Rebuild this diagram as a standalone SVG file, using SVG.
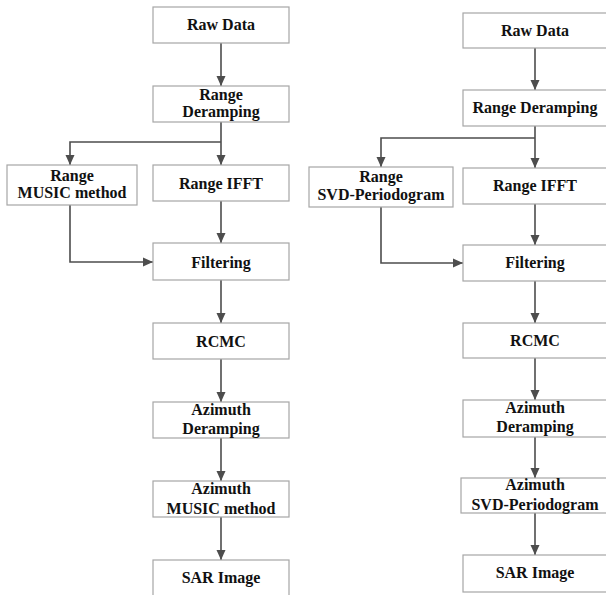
<svg xmlns="http://www.w3.org/2000/svg" width="606" height="595" viewBox="0 0 606 595">
<style>
.box{fill:#fff;stroke:#a6a6a6;stroke-width:1.2}
.t{font-family:"Liberation Serif","Times New Roman",serif;font-weight:bold;font-size:16px;fill:#111;text-anchor:middle}
.c{fill:none;stroke:#4d4d4d;stroke-width:1.6}
</style>
<defs>
<marker id="ah" viewBox="0 0 10 10" refX="10" refY="5" markerWidth="10" markerHeight="10" markerUnits="userSpaceOnUse" orient="auto">
<path d="M0,0.5 L10,5 L0,9.5 z" fill="#4d4d4d"/>
</marker>
</defs>
<rect width="606" height="595" fill="#fff"/>
<g id="connectors">
<path class="c" d="M221,43 V86" marker-end="url(#ah)"/>
<path class="c" d="M221,122 V165" marker-end="url(#ah)"/>
<path class="c" d="M221,142 H70 V165" marker-end="url(#ah)"/>
<path class="c" d="M221,201 V243" marker-end="url(#ah)"/>
<path class="c" d="M70,205 V262 H153" marker-end="url(#ah)"/>
<path class="c" d="M221,280 V323" marker-end="url(#ah)"/>
<path class="c" d="M221,359 V402" marker-end="url(#ah)"/>
<path class="c" d="M221,438 V481" marker-end="url(#ah)"/>
<path class="c" d="M221,517 V560" marker-end="url(#ah)"/>
<path class="c" d="M535,48 V90" marker-end="url(#ah)"/>
<path class="c" d="M535,126 V168" marker-end="url(#ah)"/>
<path class="c" d="M535,138 H381 V167" marker-end="url(#ah)"/>
<path class="c" d="M535,204 V245" marker-end="url(#ah)"/>
<path class="c" d="M381,207 V263 H463" marker-end="url(#ah)"/>
<path class="c" d="M535,281 V323" marker-end="url(#ah)"/>
<path class="c" d="M535,358 V400" marker-end="url(#ah)"/>
<path class="c" d="M535,437 V478" marker-end="url(#ah)"/>
<path class="c" d="M535,513 V555" marker-end="url(#ah)"/>
</g>
<g id="L1"><rect class="box" x="153" y="7" width="136" height="36"/><text class="t" x="221" y="30">Raw Data</text></g>
<g id="L2"><rect class="box" x="153" y="86" width="136" height="36"/><text class="t" x="221" y="100">Range</text><text class="t" x="221" y="117">Deramping</text></g>
<g id="L3"><rect class="box" x="7" y="165" width="130" height="40"/><text class="t" x="72" y="181">Range</text><text class="t" x="72" y="198">MUSIC method</text></g>
<g id="L4"><rect class="box" x="153" y="165" width="136" height="36"/><text class="t" x="221" y="189">Range IFFT</text></g>
<g id="L5"><rect class="box" x="153" y="243" width="136" height="37"/><text class="t" x="221" y="268">Filtering</text></g>
<g id="L6"><rect class="box" x="153" y="323" width="136" height="36"/><text class="t" x="221" y="347">RCMC</text></g>
<g id="L7"><rect class="box" x="153" y="402" width="136" height="36"/><text class="t" x="221" y="415">Azimuth</text><text class="t" x="221" y="434">Deramping</text></g>
<g id="L8"><rect class="box" x="153" y="481" width="136" height="36"/><text class="t" x="221" y="494">Azimuth</text><text class="t" x="221" y="514">MUSIC method</text></g>
<g id="L9"><rect class="box" x="153" y="560" width="136" height="36"/><text class="t" x="221" y="583">SAR Image</text></g>
<g id="R1"><rect class="box" x="463" y="13" width="146" height="35"/><text class="t" x="535" y="36">Raw Data</text></g>
<g id="R2"><rect class="box" x="463" y="90" width="146" height="36"/><text class="t" x="535" y="113">Range Deramping</text></g>
<g id="R3"><rect class="box" x="309" y="167" width="144" height="40"/><text class="t" x="381" y="182">Range</text><text class="t" x="381" y="200">SVD-Periodogram</text></g>
<g id="R4"><rect class="box" x="463" y="168" width="146" height="36"/><text class="t" x="535" y="191">Range IFFT</text></g>
<g id="R5"><rect class="box" x="463" y="245" width="146" height="36"/><text class="t" x="535" y="268">Filtering</text></g>
<g id="R6"><rect class="box" x="463" y="323" width="146" height="35"/><text class="t" x="535" y="346">RCMC</text></g>
<g id="R7"><rect class="box" x="463" y="400" width="146" height="37"/><text class="t" x="535" y="413">Azimuth</text><text class="t" x="535" y="432">Deramping</text></g>
<g id="R8"><rect class="box" x="461" y="478" width="148" height="35"/><text class="t" x="535" y="490">Azimuth</text><text class="t" x="535" y="510">SVD-Periodogram</text></g>
<g id="R9"><rect class="box" x="463" y="555" width="146" height="37"/><text class="t" x="535" y="578">SAR Image</text></g>
</svg>
